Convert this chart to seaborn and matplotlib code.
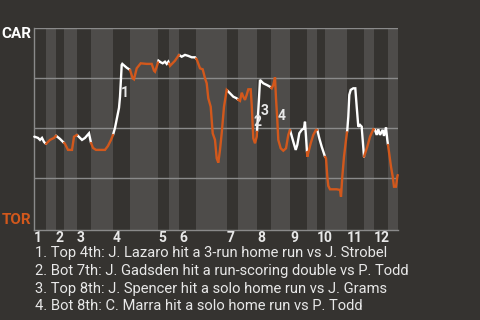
import numpy as np
import pandas as pd
import matplotlib
matplotlib.use("Agg")
import matplotlib.pyplot as plt
import seaborn as sns

# ---------------- data ----------------
teams = ["CAR", "TOR"]
innings = ["1", "2", "3", "4", "5", "6", "7", "8", "9", "10", "11", "12"]
# start of every half-inning (top, bottom, top, ...) on the play axis
half_starts = [0, 11.7, 21.7, 29.7, 42.7, 56.7, 78.7, 95.7, 123.7, 134.7,
               144.7, 161.7, 192.7, 203.7, 222.7, 236.7, 255.7, 272.7,
               282.7, 290.7, 312.7, 329.7, 339.7, 353.7]
game_end = 363.4

play_x = [0.2, 3.7, 5.7, 7.7, 9.7, 11.7, 15.7, 19.7, 21.7, 25.7, 29.7, 30.7,
          33.7, 37.7, 39.7, 42.7, 45.7, 47.7, 50.7, 54.7, 56.7, 58.7, 61.7,
          70.7, 73.7, 76.7, 78.7, 80.7, 82.7, 84.7, 85.7, 87.4, 88.0, 92.4,
          95.7, 98.4, 99.7, 102.4, 106.4, 112.4, 117.4, 119.7, 120.7, 122.4,
          124.2, 126.4, 128.4, 130.7, 132.4, 134.0, 135.7, 140.7, 144.0,
          144.7, 147.4, 150.7, 154.0, 157.4, 160.7, 162.4, 165.7, 168.4,
          170.7, 172.4, 174.0, 176.4, 178.4, 180.7, 182.4, 184.0, 185.7,
          187.4, 189.7, 192.4, 195.7, 199.0, 202.4, 204.0, 205.7, 207.4,
          209.0, 210.7, 212.4, 214.0, 216.4, 217.4, 219.0, 220.7, 222.4,
          224.7, 225.7, 229.0, 232.4, 235.7, 237.4, 239.0, 240.7, 241.7,
          243.0, 244.0, 246.4, 249.0, 251.7, 254.0, 255.7, 259.0, 261.4,
          263.0, 265.0, 267.4, 269.7, 270.7, 271.7, 273.0, 276.4, 279.0,
          281.7, 283.0, 285.0, 287.4, 290.7, 291.7, 293.0, 294.0, 295.7,
          302.4, 305.7, 306.7, 308.0, 309.7, 311.7, 313.0, 314.0, 315.0,
          316.4, 319.0, 321.0, 322.4, 324.0, 325.7, 327.4, 328.4, 329.7,
          333.0, 335.7, 339.0, 340.7, 342.4, 344.0, 345.7, 348.4, 349.7,
          351.7, 353.0, 354.4, 356.7, 358.4, 359.7, 361.7, 363.0, 364.4]
car_win_pct = [45.8, 45.2, 44.2, 45.2, 43.2, 42.2, 44.2, 45.2, 46.3, 44.7,
               42.7, 42.2, 39.2, 39.2, 45.8, 46.7, 45.2, 44.2, 45.2, 47.5,
               42.7, 40.2, 39.2, 39.2, 41.2, 44.2, 46.7, 50.2, 55.2, 60.2,
               65.7, 81.7, 82.2, 80.3, 79.2, 75.0, 74.5, 80.0, 82.5, 82.2,
               82.2, 78.8, 78.3, 80.8, 83.8, 83.0, 82.5, 83.3, 82.2, 83.3,
               81.2, 83.8, 86.2, 86.7, 85.8, 86.7, 86.2, 85.5, 85.5, 84.5,
               80.0, 79.5, 75.0, 72.5, 65.0, 60.8, 47.5, 44.2, 35.0, 32.8,
               39.2, 47.5, 60.8, 69.2, 67.5, 65.8, 65.0, 64.2, 63.7, 67.8,
               65.8, 64.2, 66.7, 69.5, 69.5, 61.7, 45.0, 42.5, 45.8, 65.0,
               74.2, 72.5, 71.7, 70.8, 70.0, 71.7, 75.5, 65.0, 54.2, 44.2,
               40.0, 38.8, 40.0, 46.7, 49.2, 43.3, 39.2, 41.7, 47.5, 49.2,
               50.0, 53.3, 45.8, 35.8, 42.5, 46.7, 49.2, 49.2, 45.0, 40.8,
               35.8, 35.0, 25.8, 21.2, 19.5, 19.5, 19.2, 15.8, 25.8, 35.8,
               44.2, 49.2, 55.8, 66.7, 69.2, 70.0, 70.0, 60.8, 50.8, 51.7,
               50.8, 44.2, 35.8, 40.8, 45.8, 49.5, 49.2, 46.7, 49.5, 46.7,
               49.2, 46.2, 50.5, 44.2, 39.2, 30.8, 25.8, 20.8, 20.8, 25.8,
               28.7]

event_ids = ["1", "2", "3", "4"]
event_x = [90.7, 223.4, 230.0, 247.7]
event_pct = [67.8, 53.3, 58.8, 56.3]
event_notes = [
    "1. Top 4th: J. Lazaro hit a 3-run home run vs J. Strobel",
    "2. Bot 7th: J. Gadsden hit a run-scoring double vs P. Todd",
    "3. Top 8th: J. Spencer hit a solo home run vs J. Grams",
    "4. Bot 8th: C. Marra hit a solo home run vs P. Todd",
]

# ---------------- style ----------------
BG = "#353330"
BAND = "#4e4c4a"
WHITE = "#ffffff"
ORANGE = "#d2581c"
TXT = "#e8e8e8"
GRID = "#8a8a8a"

sns.set_theme(style="dark")
plt.rcParams["font.family"] = ["Roboto", "DejaVu Sans"]

# build per-half-inning segments
px = np.array(play_x)
py = np.array(car_win_pct)
bounds = half_starts + [game_end]
rows = []
for i in range(len(half_starts)):
    a, b = bounds[i], bounds[i + 1]
    m = (px > a) & (px < b)
    xs = np.concatenate([[a], px[m], [b]])
    ys = np.concatenate([[np.interp(a, px, py)], py[m], [np.interp(b, px, py)]])
    side = "top" if i % 2 == 0 else "bot"
    for x, y in zip(xs, ys):
        rows.append({"x": x, "wp": y, "seg": i, "side": side})
df = pd.DataFrame(rows)

fig = plt.figure(figsize=(4.8, 3.2), dpi=100, facecolor=BG)
ax = fig.add_axes([34.3 / 480, 90 / 320, (397.7 - 34.3) / 480, (230 - 28.3) / 320])
ax.set_facecolor(BG)

for i in range(1, len(half_starts), 2):
    ax.axvspan(bounds[i], bounds[i + 1], color=BAND, lw=0, zorder=0)

ax.set_xlim(0, game_end)
ax.set_ylim(-0.85, 100)

ax.set_yticks([25, 50, 75, 100])
ax.yaxis.grid(True, color=GRID, lw=1)
ax.xaxis.grid(False)
ax.tick_params(axis="y", length=0, labelleft=False)
ax.set_axisbelow(False)

sns.lineplot(data=df, x="x", y="wp", hue="side", units="seg", estimator=None,
             sort=False, palette={"top": WHITE, "bot": ORANGE}, legend=False,
             linewidth=1.7, ax=ax, zorder=3)
for ln in ax.lines:
    ln.set_solid_joinstyle("miter")
    ln.set_clip_on(False)

for s in ["top", "right"]:
    ax.spines[s].set_visible(False)
for s in ["left", "bottom"]:
    ax.spines[s].set_color(GRID)
    ax.spines[s].set_linewidth(1)

top_starts = half_starts[0::2]
ax.set_xticks(top_starts)
ax.set_xticklabels(innings, fontsize=10, fontweight="bold", color=TXT, ha="left")
ax.tick_params(axis="x", length=0, pad=1)
ax.set_xlabel("")
ax.set_ylabel("")

for lab, x, y in zip(event_ids, event_x, event_pct):
    ax.text(x, y, lab, fontsize=10, fontweight="bold", color=TXT,
            ha="center", va="center", zorder=4)

fig.text(31 / 480, 1 - 34 / 320, teams[0], fontsize=11, fontweight="bold",
         color=WHITE, ha="right", va="center")
fig.text(31 / 480, 1 - 220 / 320, teams[1], fontsize=11, fontweight="bold",
         color=ORANGE, ha="right", va="center")

for k, note in enumerate(event_notes):
    fig.text(35 / 480, 1 - (253.3 + k * 17.6) / 320, note, fontsize=10.6,
             color=TXT, ha="left", va="center")

fig.savefig("out.png", dpi=100, facecolor=BG)
